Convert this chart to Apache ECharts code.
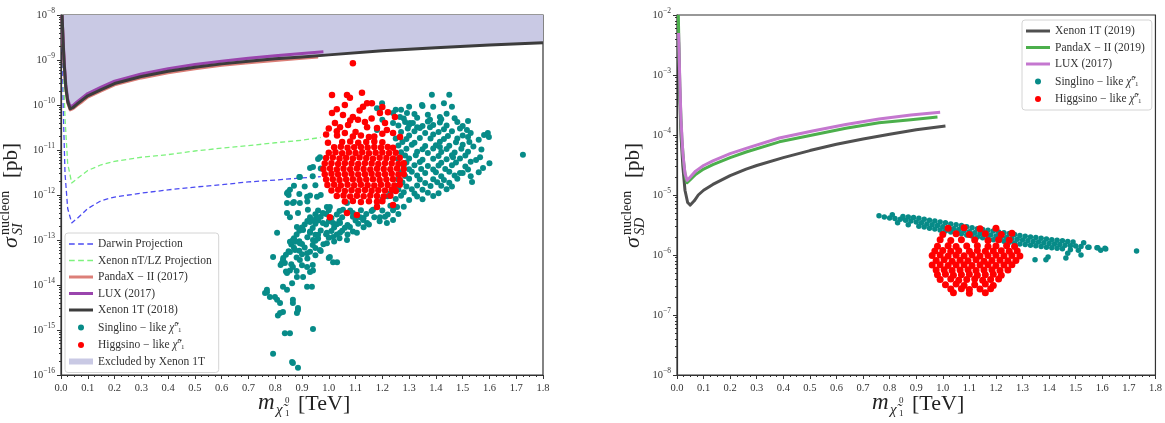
<!DOCTYPE html>
<html><head><meta charset="utf-8">
<script src="https://cdn.jsdelivr.net/npm/echarts@6/dist/echarts.min.js"></script>
<style>
html,body{margin:0;padding:0;background:#fff;}
#wrap{position:relative;width:1165px;height:423px;overflow:hidden;}
#c1{position:absolute;left:0;top:0;width:580px;height:423px;}
#c2{position:absolute;left:580px;top:0;width:585px;height:423px;}
</style>
</head><body><div id="wrap"><div id="c1"></div><div id="c2"></div></div>
<script>
// ---------------- DATA ----------------
// Left panel: spin-independent, sigma in pb, mass in TeV
const xenon1T2018 = [[0.004,1e-8],[0.008,2.5e-9],[0.012,8e-10],[0.018,2.5e-10],[0.025,1.2e-10],[0.034,8.2e-11],[0.045,8.8e-11],[0.06,1.05e-10],[0.08,1.3e-10],[0.1,1.6e-10],[0.15,2.2e-10],[0.2,3.0e-10],[0.3,4.3e-10],[0.4,5.6e-10],[0.5,6.9e-10],[0.6,8.2e-10],[0.7,9.4e-10],[0.8,1.06e-9],[0.9,1.17e-9],[1.0,1.3e-9],[1.2,1.6e-9],[1.4,1.88e-9],[1.6,2.15e-9],[1.8,2.43e-9]];
const lux2017SI = [[0.004,1e-8],[0.008,2.8e-9],[0.012,9e-10],[0.018,2.8e-10],[0.025,1.35e-10],[0.034,9.2e-11],[0.045,9.8e-11],[0.06,1.17e-10],[0.08,1.45e-10],[0.1,1.8e-10],[0.15,2.5e-10],[0.2,3.4e-10],[0.3,4.9e-10],[0.4,6.4e-10],[0.5,7.9e-10],[0.6,9.4e-10],[0.7,1.09e-9],[0.8,1.24e-9],[0.9,1.39e-9],[0.98,1.52e-9]];
const pandax2017SI = [[0.004,1e-8],[0.008,2.3e-9],[0.012,7.5e-10],[0.018,2.3e-10],[0.025,1.12e-10],[0.034,7.8e-11],[0.045,8.3e-11],[0.06,9.8e-11],[0.08,1.2e-10],[0.1,1.5e-10],[0.15,2.05e-10],[0.2,2.8e-10],[0.3,4.0e-10],[0.4,5.2e-10],[0.5,6.4e-10],[0.6,7.6e-10],[0.7,8.7e-10],[0.8,9.8e-10],[0.9,1.09e-9],[0.96,1.16e-9]];
const darwinProj = [[0.004,1e-8],[0.008,1e-10],[0.015,3e-12],[0.025,5e-13],[0.04,2.4e-13],[0.06,3e-13],[0.1,5e-13],[0.15,7.5e-13],[0.2,9e-13],[0.3,1.1e-12],[0.4,1.3e-12],[0.5,1.5e-12],[0.6,1.7e-12],[0.7,1.95e-12],[0.8,2.15e-12],[0.9,2.4e-12],[0.97,2.55e-12]];
const xenonNTProj = [[0.004,1e-8],[0.008,1e-9],[0.015,5e-11],[0.025,5e-12],[0.04,1.85e-12],[0.06,2.3e-12],[0.1,3.5e-12],[0.15,4.7e-12],[0.2,5.6e-12],[0.3,6.9e-12],[0.4,7.9e-12],[0.5,9.5e-12],[0.6,1.1e-11],[0.7,1.25e-11],[0.8,1.45e-11],[0.9,1.65e-11],[0.97,1.9e-11]];

const singlinoSI = [
[1.385,1.7e-10],[1.45,1.7e-10],[1.43,1.1e-10],[1.46,9.1e-11],[1.35,9.5e-11],[1.39,9.1e-11],[1.30,9.1e-11],[1.27,7.8e-11],[1.25,7.8e-11],[1.19,7.8e-11],[1.18,8.5e-11],
[1.199,1.1e-10],[1.24,6.6e-11],[1.292,6.6e-11],[1.348,1e-10],[1.303,4e-11],[1.378,4.7e-11],[1.415,5.4e-11],
[1.516,2.8e-11],[1.52,1.95e-11],[1.594,2.4e-11],[1.598,1.95e-11],[1.565,6.9e-12],[1.60,5.1e-12],[1.576,4e-12],[1.725,7.8e-12],[1.535,1.95e-12],[1.49,3.1e-12],[1.464,6.9e-12],[1.415,1.17e-11],[1.378,3.2e-11],[1.314,4e-11],[1.33,3.2e-11],[1.266,5.4e-11],[1.24,4e-11],[1.20,4.7e-11],[1.18,2.8e-11],[0.967,6.9e-12],[0.941,4.2e-12],[0.892,2.5e-12],[0.855,1.3e-12],[0.844,1.1e-12],
[1.28,5e-11],[1.33,5.2e-11],[1.42,4.8e-11],[1.47,5.1e-11],
[1.26,3.5e-11],[1.30,3.6e-11],[1.35,3.4e-11],[1.39,3.6e-11],[1.44,3.5e-11],[1.50,3.4e-11],
[1.27,2.5e-11],[1.32,2.6e-11],[1.36,2.4e-11],[1.41,2.5e-11],[1.46,2.6e-11],[1.53,2.4e-11],
[1.25,1.8e-11],[1.29,1.75e-11],[1.34,1.85e-11],[1.38,1.8e-11],[1.43,1.75e-11],[1.48,1.8e-11],[1.56,1.7e-11],
[1.26,1.26e-11],[1.31,1.3e-11],[1.36,1.22e-11],[1.40,1.28e-11],[1.45,1.25e-11],[1.50,1.3e-11],[1.54,1.2e-11],
[1.27,8.9e-12],[1.33,9.2e-12],[1.37,8.6e-12],[1.42,9e-12],[1.47,8.8e-12],[1.52,9.1e-12],
[1.26,6.3e-12],[1.30,6.5e-12],[1.35,6.1e-12],[1.39,6.4e-12],[1.44,6.2e-12],[1.49,6.5e-12],[1.55,6e-12],
[1.28,4.5e-12],[1.32,4.6e-12],[1.37,4.4e-12],[1.41,4.5e-12],[1.46,4.6e-12],[1.51,4.3e-12],
[1.27,3.2e-12],[1.31,3.3e-12],[1.36,3.1e-12],[1.40,3.2e-12],[1.45,3.3e-12],[1.50,3.1e-12],[1.56,3.2e-12],
[1.26,2.2e-12],[1.30,2.3e-12],[1.34,2.2e-12],[1.39,2.25e-12],[1.43,2.15e-12],[1.48,2.3e-12],
[1.25,1.6e-12],[1.29,1.55e-12],[1.33,1.62e-12],[1.38,1.58e-12],[1.42,1.6e-12],[1.46,1.55e-12],
[1.23,1.1e-12],[1.28,1.15e-12],[1.32,1.08e-12],[1.37,1.12e-12],[1.41,1.1e-12],
[1.20,7.9e-13],[1.25,8.2e-13],[1.30,7.7e-13],[1.35,8e-13],
[1.18,5.6e-13],[1.23,5.8e-13],[1.28,5.5e-13],
[1.32,6.3e-11],[1.37,6.1e-11],[1.44,6.4e-11],
[1.285,4.2e-11],[1.37,4.3e-11],[1.415,4.1e-11],[1.48,4.2e-11],[1.52,4.4e-11],
[1.295,3e-11],[1.34,3.1e-11],[1.43,2.9e-11],[1.49,3e-11],
[1.30,2.1e-11],[1.39,2.2e-11],[1.445,2.05e-11],[1.50,2.1e-11],[1.58,2.15e-11],
[1.275,1.5e-11],[1.32,1.45e-11],[1.415,1.52e-11],[1.475,1.48e-11],[1.525,1.5e-11],
[1.29,1.06e-11],[1.35,1.04e-11],[1.39,1.08e-11],[1.44,1.05e-11],[1.495,1.07e-11],[1.57,1.03e-11],
[1.285,7.5e-12],[1.325,7.6e-12],[1.41,7.4e-12],[1.46,7.6e-12],[1.51,7.5e-12],
[1.29,5.3e-12],[1.34,5.4e-12],[1.42,5.2e-12],[1.475,5.3e-12],[1.53,5.5e-12],
[1.30,3.75e-12],[1.345,3.8e-12],[1.39,3.7e-12],[1.435,3.8e-12],[1.52,3.7e-12],
[1.285,2.65e-12],[1.33,2.7e-12],[1.42,2.6e-12],[1.47,2.7e-12],[1.53,2.6e-12],
[1.275,1.9e-12],[1.36,1.85e-12],[1.405,1.92e-12],[1.45,1.88e-12],
[1.26,1.33e-12],[1.31,1.35e-12],[1.35,1.3e-12],[1.44,1.34e-12],
[1.22,9.4e-13],[1.27,9.6e-13],[1.33,9.3e-13],[1.39,9.5e-13],
[0.96,4.5e-13],[1.00,4.6e-13],[1.04,4.4e-13],[1.08,4.5e-13],[1.12,4.6e-13],[1.16,4.4e-13],[1.20,4.5e-13],[1.24,4.6e-13],
[0.93,3.2e-13],[0.97,3.3e-13],[1.01,3.1e-13],[1.05,3.2e-13],[1.09,3.3e-13],[1.13,3.1e-13],[1.17,3.2e-13],[1.21,3.3e-13],
[0.91,2.2e-13],[0.95,2.3e-13],[0.99,2.2e-13],[1.03,2.25e-13],[1.07,2.15e-13],[1.11,2.3e-13],[1.15,2.2e-13],
[0.89,1.6e-13],[0.93,1.55e-13],[0.97,1.62e-13],[1.01,1.58e-13],[1.05,1.6e-13],[1.09,1.55e-13],
[0.87,1.1e-13],[0.92,1.15e-13],[0.96,1.08e-13],[1.00,1.12e-13],[1.04,1.1e-13],
[0.86,7.9e-14],[0.90,8.2e-14],[0.94,7.7e-14],[0.98,8e-14],
[0.85,5.6e-14],[0.89,5.8e-14],[0.93,5.5e-14],[0.97,5.7e-14],
[0.83,4e-14],[0.88,4.1e-14],[0.92,3.9e-14],[1.00,4e-14],
[0.82,2.8e-14],[0.86,2.9e-14],[0.90,2.75e-14],[0.94,2.8e-14],
[0.84,2e-14],[0.88,2.05e-14],[0.93,1.95e-14],
[0.95,3.75e-13],[0.99,3.8e-13],[1.03,3.7e-13],[1.14,3.8e-13],[1.22,3.7e-13],[1.26,3.8e-13],
[0.92,2.65e-13],[0.96,2.7e-13],[1.00,2.6e-13],[1.04,2.65e-13],[1.10,2.7e-13],[1.19,2.6e-13],
[0.90,1.9e-13],[0.94,1.85e-13],[1.02,1.9e-13],[1.06,1.88e-13],[1.13,1.92e-13],
[0.88,1.33e-13],[0.95,1.3e-13],[0.99,1.35e-13],[1.03,1.32e-13],[1.07,1.33e-13],
[0.89,9.4e-14],[0.95,9.6e-14],[1.02,9.3e-14],
[0.87,6.7e-14],[0.91,6.8e-14],[0.95,6.6e-14],
[0.84,4.7e-14],[0.90,4.8e-14],[0.95,4.6e-14],
[0.96,6.3e-12],[0.93,4e-12],[0.97,3.9e-12],[0.89,2.5e-12],[0.94,2.6e-12],[0.87,1.6e-12],[0.91,1.55e-12],[0.95,1.65e-12],[0.85,1e-12],[0.89,1.05e-12],[0.93,9.8e-13],[0.97,1e-12],[0.87,7e-13],[0.92,7.2e-13],
[0.848,1.17e-12],[0.866,6.6e-13],[0.844,4e-13],[0.807,1.45e-13],[0.855,9.1e-14],[0.874,9.1e-14],[0.904,1.66e-13],[0.93,2.5e-13],[0.956,3.2e-13],[0.978,2.4e-13],[0.993,1.45e-13],[1.016,1.17e-13],[1.042,1.45e-13],[1.068,1e-13],[1.079,1.95e-13],[1.105,1.45e-13],[1.143,2.4e-13],[1.191,3.2e-13],[1.217,2.4e-13],[1.24,2.8e-13],[0.922,4.7e-13],[0.892,6.6e-13],[0.941,1e-13],[0.967,6e-14],[1.004,4.2e-14],[1.031,3.2e-14],[0.792,4.2e-14],[0.825,3.1e-14],[0.855,2.1e-14],[0.892,3.6e-14],[0.919,2.5e-14],[0.941,2.1e-14],[0.881,1.5e-14],[0.863,1.1e-14],[0.904,1.5e-14],[0.937,9.1e-15],[0.829,9.1e-15],[0.769,7.8e-15],[0.762,6.6e-15],[0.799,5.4e-15],[0.844,7.8e-15],[0.866,4e-15],[0.885,3.1e-15],[0.818,4e-15],[0.81,2.1e-15],[0.829,2.5e-15],[0.881,2.4e-15],[0.836,8.5e-16],[0.855,8.5e-16],[0.941,1.05e-15],[0.792,2.95e-16],[0.863,1.95e-16],[0.885,1.45e-16],[0.919,5.1e-14],[0.96,1.3e-13],[0.993,8.5e-14],[1.016,2.4e-13],[1.042,2.4e-13],[1.053,4.7e-13],[1.09,4e-13],[1.117,3.2e-13],[1.165,4.7e-13],[0.993,5.4e-13],[0.956,9.1e-13],[0.919,9.1e-13],
[0.836,3.1e-14],[0.855,5.4e-14],[0.874,6e-14],[0.866,1e-13],[0.892,8.5e-14],[0.93,1.45e-13],[0.941,2.8e-13],[0.978,4e-13],[1.004,5.4e-13],[1.068,6.6e-13],[1.128,2.8e-13],[1.255,5.4e-13],[1.016,3.2e-14],[0.919,9.1e-15],[0.866,4.7e-15],[0.885,2.8e-15],[0.818,2.4e-15],[0.866,1.85e-16],
[0.829,3.6e-14],[0.866,2.5e-14],[0.844,1.85e-14],[0.769,6.9e-15],[0.78,5.4e-15],[0.807,4.7e-15],[0.844,6.6e-13],[0.855,3.2e-13],[0.881,1.95e-13],[0.885,4e-13]
];

const higgsinoSI = [
[1.09,2e-11],[1.12,2.1e-11],[1.15,1.95e-11],[1.17,2e-11],
[1.05,1.5e-11],[1.08,1.55e-11],[1.11,1.45e-11],[1.14,1.5e-11],[1.17,1.55e-11],[1.2,1.48e-11],
[1.02,1.15e-11],[1.045,1.18e-11],[1.07,1.12e-11],[1.095,1.15e-11],[1.12,1.17e-11],[1.145,1.13e-11],[1.17,1.16e-11],[1.195,1.14e-11],[1.22,1.17e-11],[1.24,1.12e-11],
[1.0,8.7e-12],[1.025,8.9e-12],[1.05,8.5e-12],[1.075,8.8e-12],[1.1,8.6e-12],[1.125,8.9e-12],[1.15,8.5e-12],[1.175,8.7e-12],[1.2,8.8e-12],[1.225,8.6e-12],[1.25,8.7e-12],
[0.99,6.6e-12],[1.015,6.8e-12],[1.04,6.5e-12],[1.065,6.7e-12],[1.09,6.5e-12],[1.115,6.8e-12],[1.14,6.6e-12],[1.165,6.4e-12],[1.19,6.7e-12],[1.215,6.6e-12],[1.24,6.5e-12],[1.265,6.7e-12],
[0.985,5e-12],[1.01,5.1e-12],[1.035,4.9e-12],[1.06,5.1e-12],[1.085,5e-12],[1.11,4.9e-12],[1.135,5.1e-12],[1.16,5e-12],[1.185,4.9e-12],[1.21,5.1e-12],[1.235,5e-12],[1.26,4.9e-12],[1.28,5.1e-12],
[0.98,3.8e-12],[1.005,3.9e-12],[1.03,3.7e-12],[1.055,3.85e-12],[1.08,3.75e-12],[1.105,3.9e-12],[1.13,3.8e-12],[1.155,3.7e-12],[1.18,3.85e-12],[1.205,3.8e-12],[1.23,3.75e-12],[1.255,3.9e-12],[1.28,3.8e-12],
[0.985,2.9e-12],[1.01,2.95e-12],[1.035,2.85e-12],[1.06,2.9e-12],[1.085,2.95e-12],[1.11,2.85e-12],[1.135,2.9e-12],[1.16,2.95e-12],[1.185,2.85e-12],[1.21,2.9e-12],[1.235,2.95e-12],[1.26,2.85e-12],[1.28,2.9e-12],
[0.99,2.2e-12],[1.015,2.25e-12],[1.04,2.15e-12],[1.065,2.2e-12],[1.09,2.25e-12],[1.115,2.15e-12],[1.14,2.2e-12],[1.165,2.25e-12],[1.19,2.15e-12],[1.215,2.2e-12],[1.24,2.25e-12],[1.265,2.15e-12],
[0.995,1.66e-12],[1.02,1.7e-12],[1.045,1.62e-12],[1.07,1.68e-12],[1.095,1.64e-12],[1.12,1.7e-12],[1.145,1.65e-12],[1.17,1.62e-12],[1.195,1.68e-12],[1.22,1.66e-12],[1.245,1.63e-12],[1.265,1.69e-12],
[1.01,1.26e-12],[1.035,1.3e-12],[1.06,1.23e-12],[1.085,1.28e-12],[1.11,1.25e-12],[1.135,1.29e-12],[1.16,1.24e-12],[1.185,1.27e-12],[1.21,1.26e-12],[1.235,1.3e-12],[1.25,1.23e-12],
[1.03,9.5e-13],[1.055,9.8e-13],[1.08,9.3e-13],[1.105,9.6e-13],[1.13,9.4e-13],[1.155,9.7e-13],[1.18,9.5e-13],[1.205,9.3e-13],[1.23,9.6e-13],
[1.06,7.2e-13],[1.09,7.4e-13],[1.12,7e-13],[1.15,7.3e-13],[1.18,7.1e-13],[1.2,7.3e-13],
[1.004,3.2e-13],[1.068,4e-13],[1.105,3.6e-13],[1.18,5.4e-13],[1.24,6e-13],
[1.03,2.6e-11],[1.06,2.4e-11],[1.10,2.5e-11],[1.2,2.3e-11],[1.08,4.5e-11],[1.16,5e-11],[1.21,4e-11],[1.0,3e-11],[0.99,2.2e-11],[1.115,7.5e-11],[1.03,8e-11],[1.2,9e-11],
[1.012,1.66e-10],[1.068,1.66e-10],[1.124,1.86e-10],[1.079,1.45e-10],[1.06,1e-10],[1.143,1.1e-10],[1.161,1.1e-10],[1.128,9.1e-11],[1.012,6.6e-11],[1.053,6e-11],[1.09,5.4e-11],[1.109,4.7e-11],[1.135,4.2e-11],[1.191,6.6e-11],[1.221,6.9e-11],[1.247,5.4e-11],[1.023,4e-11],[1.042,3.2e-11],[1.072,3.6e-11],[1.143,3.2e-11],[1.18,3.1e-11],[1.217,2.8e-11],[1.24,2.4e-11],[1.031,2.1e-11],[0.997,1.45e-11],[1.266,1.95e-11],[1.09,8.5e-10]
];

// Right panel: spin-dependent
const xenon1T2019SD = [[0.006,3.5e-3],[0.01,5e-4],[0.015,1e-4],[0.022,3e-5],[0.03,1.2e-5],[0.04,7.5e-6],[0.05,6.8e-6],[0.065,8e-6],[0.08,1e-5],[0.1,1.2e-5],[0.135,1.5e-5],[0.2,2.1e-5],[0.26,2.7e-5],[0.3,3.1e-5],[0.4,4.2e-5],[0.5,5.5e-5],[0.6,7e-5],[0.7,8.6e-5],[0.8,1.03e-4],[0.9,1.22e-4],[1.01,1.41e-4]];
const pandax2019SD = [[0.005,1e-2],[0.008,2e-3],[0.012,4e-4],[0.018,9e-5],[0.025,3.5e-5],[0.032,1.9e-5],[0.038,1.6e-5],[0.05,1.8e-5],[0.07,2.2e-5],[0.1,2.7e-5],[0.135,3.2e-5],[0.2,4.2e-5],[0.26,5.2e-5],[0.385,7.7e-5],[0.51,1e-4],[0.635,1.3e-4],[0.76,1.6e-4],[0.88,1.8e-4],[0.98,2e-4]];
const lux2017SD = [[0.006,5e-3],[0.01,1e-3],[0.015,1.8e-4],[0.022,5e-5],[0.03,2.3e-5],[0.038,1.75e-5],[0.05,2e-5],[0.07,2.5e-5],[0.1,3.1e-5],[0.135,3.7e-5],[0.2,4.9e-5],[0.26,6e-5],[0.385,8.9e-5],[0.51,1.17e-4],[0.635,1.5e-4],[0.76,1.85e-4],[0.88,2.15e-4],[0.99,2.4e-4]];

const singlinoSD = [
[0.76,4.5e-6],[0.78,4.3e-6],[0.80,4.15e-6],[0.82,4.05e-6],[0.84,3.95e-6],[0.86,3.8e-6],[0.88,3.7e-6],[0.90,3.55e-6],[0.92,3.45e-6],[0.94,3.3e-6],[0.96,3.2e-6],[0.98,3.1e-6],[1.00,2.95e-6],[1.02,2.85e-6],[1.04,2.75e-6],[1.06,2.65e-6],[1.08,2.55e-6],[1.10,2.45e-6],[1.12,2.35e-6],[1.14,2.28e-6],[1.16,2.2e-6],[1.18,2.15e-6],[1.20,2.08e-6],[1.22,2.0e-6],[1.24,1.95e-6],[1.26,1.88e-6],[1.28,1.83e-6],[1.30,1.78e-6],[1.32,1.73e-6],[1.34,1.68e-6],[1.36,1.64e-6],[1.38,1.6e-6],[1.40,1.55e-6],[1.42,1.52e-6],[1.44,1.5e-6],[1.46,1.46e-6],[1.48,1.43e-6],[1.50,1.41e-6],[1.52,1.38e-6],[1.55,1.35e-6],[1.58,1.32e-6],[1.61,1.29e-6],
[0.81,4.7e-6],[0.85,4.4e-6],[0.87,4.3e-6],[0.89,4.2e-6],[0.91,4.1e-6],[0.93,3.95e-6],[0.95,3.8e-6],[0.97,3.7e-6],[0.99,3.55e-6],[1.01,3.45e-6],[1.03,3.3e-6],[1.05,3.2e-6],[1.07,3.1e-6],[1.09,2.95e-6],[1.11,2.85e-6],[1.13,2.75e-6],[1.15,2.65e-6],[1.17,2.58e-6],[1.19,2.5e-6],[1.21,2.42e-6],[1.23,2.35e-6],[1.25,2.28e-6],[1.27,2.2e-6],[1.29,2.12e-6],[1.31,2.05e-6],[1.33,2.0e-6],[1.35,1.95e-6],[1.37,1.9e-6],[1.39,1.85e-6],[1.41,1.8e-6],[1.43,1.76e-6],[1.45,1.72e-6],[1.47,1.68e-6],[1.49,1.64e-6],[1.53,1.6e-6],
[0.83,3.45e-6],[0.87,3.2e-6],[0.91,3.0e-6],[0.93,2.92e-6],[0.95,2.8e-6],[0.97,2.7e-6],[0.99,2.6e-6],[1.01,2.5e-6],[1.03,2.42e-6],[1.05,2.33e-6],[1.07,2.25e-6],[1.09,2.16e-6],[1.11,2.08e-6],[1.13,2.0e-6],[1.15,1.93e-6],[1.17,1.87e-6],[1.19,1.8e-6],[1.21,1.75e-6],[1.23,1.7e-6],[1.25,1.63e-6],[1.27,1.58e-6],[1.29,1.53e-6],[1.31,1.5e-6],[1.33,1.46e-6],[1.35,1.43e-6],[1.37,1.39e-6],[1.39,1.35e-6],[1.41,1.32e-6],[1.43,1.3e-6],[1.45,1.27e-6],[1.48,1.22e-6],[1.51,1.2e-6],
[1.546,1.35e-6],[1.583,1.32e-6],[1.594,1.2e-6],[1.613,1.26e-6],[1.52,1e-6],[1.47,1.07e-6],[1.463,8.9e-7],[1.396,9.3e-7],[1.388,8.3e-7],[1.347,8.3e-7],[1.729,1.17e-6]
];

const higgsinoSD = [
[1.02,2.8e-6],[1.08,2.85e-6],[1.14,2.75e-6],[1.2,2.8e-6],
[1.0,2.2e-6],[1.05,2.25e-6],[1.1,2.2e-6],[1.16,2.25e-6],[1.22,2.2e-6],[1.26,2.3e-6],
[0.99,1.8e-6],[1.03,1.75e-6],[1.07,1.8e-6],[1.12,1.78e-6],[1.17,1.75e-6],[1.21,1.8e-6],[1.25,1.77e-6],
[0.98,1.4e-6],[1.02,1.42e-6],[1.05,1.38e-6],[1.09,1.41e-6],[1.13,1.43e-6],[1.17,1.39e-6],[1.2,1.41e-6],[1.24,1.42e-6],[1.27,1.38e-6],
[0.97,1.17e-6],[1.0,1.19e-6],[1.03,1.15e-6],[1.06,1.18e-6],[1.1,1.16e-6],[1.13,1.19e-6],[1.16,1.15e-6],[1.19,1.17e-6],[1.22,1.18e-6],[1.25,1.16e-6],[1.28,1.17e-6],
[0.96,9.8e-7],[0.99,1e-6],[1.02,9.6e-7],[1.05,9.9e-7],[1.08,9.7e-7],[1.11,1e-6],[1.14,9.6e-7],[1.17,9.8e-7],[1.2,9.9e-7],[1.23,9.7e-7],[1.26,9.8e-7],[1.29,9.6e-7],
[0.975,8.1e-7],[1.005,8.3e-7],[1.035,7.9e-7],[1.065,8.2e-7],[1.095,8e-7],[1.125,8.3e-7],[1.155,7.9e-7],[1.185,8.1e-7],[1.215,8.2e-7],[1.245,8e-7],[1.275,8.1e-7],
[0.96,6.8e-7],[0.99,6.9e-7],[1.02,6.7e-7],[1.05,6.8e-7],[1.08,6.9e-7],[1.11,6.7e-7],[1.14,6.8e-7],[1.17,6.9e-7],[1.2,6.7e-7],[1.23,6.8e-7],[1.26,6.9e-7],
[0.975,5.6e-7],[1.005,5.7e-7],[1.035,5.5e-7],[1.065,5.6e-7],[1.095,5.7e-7],[1.125,5.5e-7],[1.155,5.6e-7],[1.185,5.7e-7],[1.215,5.5e-7],[1.245,5.6e-7],
[0.98,4.7e-7],[1.01,4.8e-7],[1.04,4.6e-7],[1.07,4.7e-7],[1.1,4.8e-7],[1.13,4.6e-7],[1.16,4.7e-7],[1.19,4.8e-7],[1.22,4.6e-7],
[0.99,3.9e-7],[1.03,4e-7],[1.06,3.8e-7],[1.09,3.9e-7],[1.12,4e-7],[1.15,3.8e-7],[1.18,3.9e-7],[1.21,4e-7],
[1.01,3.2e-7],[1.05,3.3e-7],[1.08,3.1e-7],[1.12,3.2e-7],[1.16,3.3e-7],[1.19,3.1e-7],
[1.03,2.7e-7],[1.07,2.75e-7],[1.1,2.65e-7],[1.14,2.7e-7],[1.18,2.75e-7],
[1.04,2.35e-7],[1.1,2.3e-7],[1.16,2.35e-7]
];

// axis ranges / tick settings
const xRange = [0, 1.8];
const xInterval = 0.1;
const yRangeSI = [1e-16, 1e-8];
const yRangeSD = [1e-8, 1e-2];

// legend labels
const labelsSI = {
  'Darwin Projection': 'Darwin Projection',
  'Xenon nT/LZ Projection': 'Xenon nT/LZ Projection',
  'PandaX − II (2017)': 'PandaX − II (2017)',
  'LUX (2017)': 'LUX (2017)',
  'Xenon 1T (2018)': 'Xenon 1T (2018)',
  'Singlino': 'Singlino − like {c|χ̃}{sp|0}{sb|1}',
  'Higgsino': 'Higgsino − like {c|χ̃}{sp|0}{sb|1}',
  'Excluded by Xenon 1T': 'Excluded by Xenon 1T'
};
const labelsSD = {
  'Xenon 1T (2019)': 'Xenon 1T (2019)',
  'PandaX − II (2019)': 'PandaX − II (2019)',
  'LUX (2017)': 'LUX (2017)',
  'Singlino': 'Singlino − like {c|χ̃}{sp|0}{sb|1}',
  'Higgsino': 'Higgsino − like {c|χ̃}{sp|0}{sb|1}'
};

// ---------------- helpers ----------------
const SERIF = '"Liberation Serif", "DejaVu Serif", serif';
const TEAL = '#078b88', RED = '#ff0000';
const ICON_SOLID = 'path://M0,0H24V3H0Z';
const ICON_DASH = 'path://M0,0H5V1.4H0Z M8,0H13V1.4H8Z M16,0H21V1.4H16Z';

function logMinor(lo, hi) {
  const out = [];
  for (let e = lo; e < hi; e++) for (let k = 2; k <= 9; k++) out.push(parseFloat((k + 'e' + e)));
  return out;
}
function expLabel(v) {
  const e = Math.round(Math.log10(v));
  return '10{s|' + (e < 0 ? '−' : '') + Math.abs(e) + '}';
}
const tickFont = { fontFamily: SERIF, fontSize: 10.5, color: '#333' };

function xAxisCfg() {
  return {
    type: 'value', min: xRange[0], max: xRange[1], interval: xInterval,
    axisLine: { show: true, onZero: false, lineStyle: { color: '#333', width: 1.2 } },
    axisTick: { show: true, length: 4, lineStyle: { color: '#333' } },
    minorTick: { show: true, splitNumber: 4, length: 2, lineStyle: { color: '#333' } },
    axisLabel: Object.assign({ margin: 8, formatter: v => v.toFixed(1) }, tickFont),
    splitLine: { show: false }
  };
}
function yAxisCfg(r, lo, hi) {
  return [{
    type: 'log', logBase: 10, min: r[0], max: r[1], splitNumber: hi - lo,
    axisLine: { show: true, lineStyle: { color: '#333', width: 1.2 } },
    axisTick: { show: true, length: 4, lineStyle: { color: '#333' } },
    axisLabel: Object.assign({ margin: 6, formatter: expLabel, rich: { s: { fontFamily: SERIF, fontSize: 7.5, color: '#333', padding: [0, 0, 7, 0] } } }, tickFont),
    splitLine: { show: false }
  }, {
    type: 'log', logBase: 10, min: r[0], max: r[1], position: 'left',
    axisLine: { show: false },
    axisTick: { show: true, length: 2, customValues: logMinor(lo, hi), lineStyle: { color: '#333' } },
    axisLabel: { show: false },
    splitLine: { show: false }
  }];
}
function legendCfg(left, top, names, labels) {
  return {
    orient: 'vertical', left: left, top: top, itemGap: 4.5, itemWidth: 24, itemHeight: 6,
    padding: [5, 7, 5, 4], backgroundColor: 'rgba(255,255,255,0.85)',
    borderColor: '#d4d4d4', borderWidth: 1, borderRadius: 3,
    data: names,
    formatter: n => labels[n],
    textStyle: {
      fontFamily: SERIF, fontSize: 11.5, color: '#333', lineHeight: 12,
      rich: {
        c: { fontFamily: SERIF, fontSize: 11.5, fontStyle: 'italic', color: '#333' },
        sp: { fontFamily: SERIF, fontSize: 7, color: '#333', padding: [0, 0, 7, 0] },
        sb: { fontFamily: SERIF, fontSize: 7, color: '#333', padding: [5, 0, 0, 0] }
      }
    }
  };
}
function lgLine(name, color, dash) {
  return { name: name, icon: dash ? ICON_DASH : ICON_SOLID, itemStyle: { color: color, borderWidth: 0 } };
}
function lgDot(name, color) {
  return { name: name, icon: 'circle', itemStyle: { color: color, borderWidth: 0 } };
}
function lineSeries(name, data, color, width, dash) {
  return { type: 'line', name: name, data: data, symbol: 'none', showSymbol: false,
    lineStyle: { color: color, width: width, type: dash ? [5, 3] : 'solid', join: 'round' },
    itemStyle: { color: color }, z: 3, silent: true };
}
function scatterSeries(name, data, color, size, z) {
  return { type: 'scatter', name: name, data: data, symbolSize: size,
    itemStyle: { color: color, opacity: 1 }, z: z, silent: true };
}
function txt(x, y, text, font, extra) {
  return Object.assign({ type: 'text', x: x, y: y, silent: true,
    style: { text: text, font: font, fill: '#222', align: 'left', verticalAlign: 'middle' } }, extra || {});
}
function xTitle(x0) {
  return { type: 'group', children: [
    txt(x0, 403, 'm', 'italic 23px ' + SERIF),
    txt(x0 + 18, 410, 'χ̃', 'italic 15px ' + SERIF),
    txt(x0 + 27, 401, '0', '9px ' + SERIF),
    txt(x0 + 27, 414, '1', '9px ' + SERIF),
    txt(x0 + 40, 404, '[TeV]', '22px ' + SERIF)
  ]};
}
function yTitle(x0, y0, sub) {
  return { type: 'group', x: x0, y: y0, rotation: Math.PI / 2, children: [
    txt(0, -7, 'σ', 'italic 22px ' + SERIF),
    txt(13, -13, 'nucleon', '14px ' + SERIF),
    txt(13, 0, sub, 'italic 14px ' + SERIF),
    txt(70, -7, '[pb]', '21px ' + SERIF)
  ]};
}

// ---------------- left chart ----------------
const c1 = echarts.init(document.getElementById('c1'), null, { renderer: 'canvas' });
c1.setOption({
  animation: false,
  grid: { left: 61, top: 15, width: 482, height: 360, show: true, borderColor: '#333', borderWidth: 1.2, backgroundColor: 'transparent' },
  xAxis: xAxisCfg(),
  yAxis: yAxisCfg(yRangeSI, -16, -8),
  legend: legendCfg(65, 233, [
    lgLine('Darwin Projection', '#4b4bf2', true),
    lgLine('Xenon nT/LZ Projection', '#7df27d', true),
    lgLine('PandaX − II (2017)', '#dc7f78'),
    lgLine('LUX (2017)', '#9a45ad'),
    lgLine('Xenon 1T (2018)', '#3c3c3c'),
    lgDot('Singlino', TEAL), lgDot('Higgsino', RED),
    { name: 'Excluded by Xenon 1T', icon: 'rect', itemStyle: { color: '#c9c9e4' } }
  ], labelsSI),
  graphic: [xTitle(258), yTitle(18, 248, 'SI')],
  series: [
    { type: 'line', name: 'Excluded by Xenon 1T', data: xenon1T2018, symbol: 'none', showSymbol: false,
      lineStyle: { width: 0, opacity: 0 }, itemStyle: { color: '#c9c9e4' },
      areaStyle: { color: '#c9c9e4', opacity: 1, origin: 'end' }, z: 1, silent: true },
    lineSeries('Darwin Projection', darwinProj, '#4b4bf2', 1.3, true),
    lineSeries('Xenon nT/LZ Projection', xenonNTProj, '#7df27d', 1.3, true),
    lineSeries('PandaX − II (2017)', pandax2017SI, '#dc7f78', 3),
    lineSeries('LUX (2017)', lux2017SI, '#9a45ad', 3),
    lineSeries('Xenon 1T (2018)', xenon1T2018, '#3c3c3c', 3),
    scatterSeries('Singlino', singlinoSI, TEAL, 6, 4),
    scatterSeries('Higgsino', higgsinoSI, RED, 6.5, 5)
  ]
});

// ---------------- right chart ----------------
const c2 = echarts.init(document.getElementById('c2'), null, { renderer: 'canvas' });
c2.setOption({
  animation: false,
  grid: { left: 97, top: 15, width: 481, height: 360, show: true, borderColor: '#333', borderWidth: 1.2, backgroundColor: 'transparent' },
  xAxis: xAxisCfg(),
  yAxis: yAxisCfg(yRangeSD, -8, -2),
  legend: legendCfg(442, 20, [
    lgLine('Xenon 1T (2019)', '#505050'),
    lgLine('PandaX − II (2019)', '#4caf4c'),
    lgLine('LUX (2017)', '#c477cf'),
    lgDot('Singlino', TEAL), lgDot('Higgsino', RED)
  ], labelsSD),
  graphic: [xTitle(292), yTitle(60, 248, 'SD')],
  series: [
    lineSeries('Xenon 1T (2019)', xenon1T2019SD, '#505050', 3),
    lineSeries('PandaX − II (2019)', pandax2019SD, '#4caf4c', 3),
    lineSeries('LUX (2017)', lux2017SD, '#c477cf', 3),
    scatterSeries('Singlino', singlinoSD, TEAL, 5.5, 4),
    scatterSeries('Higgsino', higgsinoSD, RED, 7, 5)
  ]
});
</script></body></html>
